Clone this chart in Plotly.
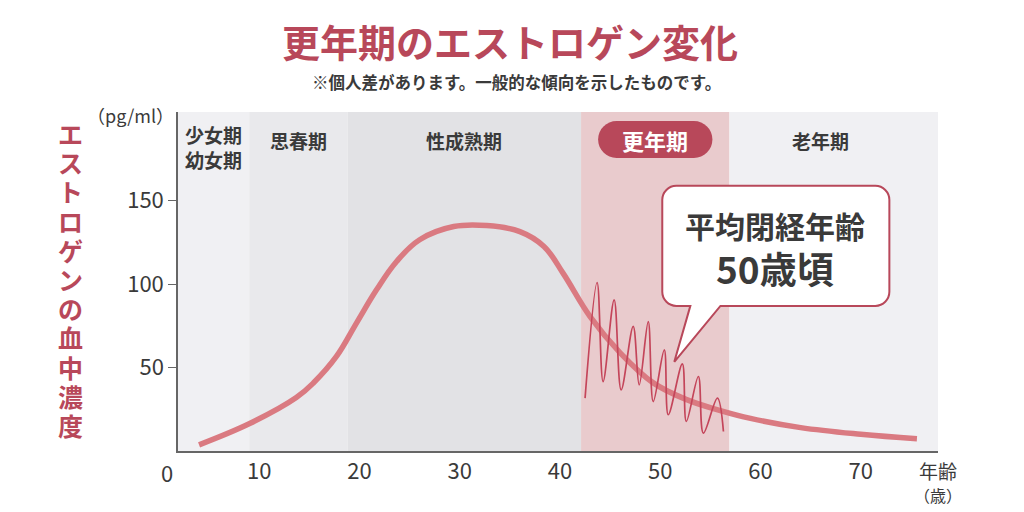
import plotly.graph_objects as go

# ---- data ----
ages_main = [4.0, 9.1, 13.7, 15.4, 17.7, 19.7, 21.7, 23.7, 26.0, 29.4, 32.7, 36.0,
             38.4, 40.3, 43.0, 46.0, 49.3, 52.7, 56.0, 59.0, 64.0, 70.0, 75.6]
estrogen_main = [3.7, 16.6, 32.0, 40.7, 56.6, 76.6, 96.5, 113.5, 126.5, 134.4, 135.0, 131.4,
                 122.5, 106.5, 80.5, 58.8, 40.8, 30.6, 24.2, 19.5, 14.0, 10.0, 7.3]

ages_wave = [42.5, 43.7, 44.3, 45.4, 46.1, 47.3, 47.9, 48.8, 49.3, 50.4, 50.8,
             52.2, 52.6, 53.8, 54.3, 55.7, 56.3]
estrogen_wave = [31.7, 100.9, 41.6, 90.5, 36.6, 74.6, 39.6, 77.5, 29.6, 60.6, 21.7,
                 52.2, 17.7, 44.6, 10.7, 31.7, 11.7]

x_ticks = [10, 20, 30, 40, 50, 60, 70]
y_ticks = [50, 100, 150]

stage_names = ["少女期<br>幼女期", "思春期", "性成熟期", "更年期", "老年期"]
stage_bounds = [1.9, 9.0, 18.8, 42.1, 56.9, 77.7]
stage_colors = ["#f0f0f3", "#e9e9ec", "#e2e2e5", "#e9cbcd", "#f0f0f3"]
stage_label_x = [5.45, 13.9, 30.45, 49.5, 66.0]

X_RANGE = [1.9, 77.7]
Y_RANGE = [0, 203]

FONT = "Noto Sans CJK JP, Noto Sans, sans-serif"
RED = "#b8485a"
DARK = "#3a3a3a"


def rounded_path(x0, x1, y0, y1, rx, ry, tail=None):
    k = 0.552
    p = f"M {x0+rx},{y1} L {x1-rx},{y1} "
    p += f"C {x1-rx+rx*k},{y1} {x1},{y1-ry+ry*k} {x1},{y1-ry} "
    p += f"L {x1},{y0+ry} "
    p += f"C {x1},{y0+ry-ry*k} {x1-rx+rx*k},{y0} {x1-rx},{y0} "
    if tail:
        (tl, tr, tx, ty) = tail
        p += f"L {tr},{y0} L {tx},{ty} L {tl},{y0} "
    p += f"L {x0+rx},{y0} "
    p += f"C {x0+rx-rx*k},{y0} {x0},{y0+ry-ry*k} {x0},{y0+ry} "
    p += f"L {x0},{y1-ry} "
    p += f"C {x0},{y1-ry+ry*k} {x0+rx-rx*k},{y1} {x0+rx},{y1} Z"
    return p


fig = go.Figure()

fig.add_trace(go.Scatter(
    x=ages_main, y=estrogen_main, mode="lines",
    line=dict(color="#da7a81", width=5.5, shape="spline", smoothing=1.1),
    hoverinfo="skip", showlegend=False))

fig.add_trace(go.Scatter(
    x=ages_wave, y=estrogen_wave, mode="lines",
    line=dict(color="#c4455a", width=1.7, shape="spline", smoothing=1.0),
    hoverinfo="skip", showlegend=False))

shapes = []
for i in range(len(stage_names)):
    shapes.append(dict(type="rect", xref="x", yref="y",
                       x0=stage_bounds[i], x1=stage_bounds[i + 1],
                       y0=Y_RANGE[0], y1=Y_RANGE[1],
                       fillcolor=stage_colors[i], line=dict(width=0), layer="below"))

# badge for 更年期
shapes.append(dict(type="path", xref="x", yref="y",
                   path=rounded_path(43.8, 55.2, 175.5, 197.6, 1.85, 11.0),
                   fillcolor=RED, line=dict(width=0), layer="above"))

# callout
shapes.append(dict(type="path", xref="x", yref="y",
                   path=rounded_path(50.2, 72.85, 86.9, 158.8, 1.4, 8.4,
                                     tail=(53.0, 56.0, 51.4, 53.4)),
                   fillcolor="white", line=dict(color=RED, width=2), layer="above"))

annotations = []
for i, name in enumerate(stage_names):
    if i == 3:
        annotations.append(dict(x=stage_label_x[i], y=186, xref="x", yref="y",
                                text="<b>" + name + "</b>", showarrow=False,
                                font=dict(family=FONT, size=22, color="white")))
    else:
        annotations.append(dict(x=stage_label_x[i], y=186 if i else 182, xref="x", yref="y",
                                text="<b>" + name + "</b>", showarrow=False,
                                font=dict(family=FONT, size=19, color=DARK)))

annotations += [
    dict(x=61.4, y=135.5, xref="x", yref="y", text="<b>平均閉経年齢</b>", showarrow=False,
         font=dict(family=FONT, size=30, color=DARK)),
    dict(x=61.4, y=109.5, xref="x", yref="y", text="<b>50歳頃</b>", showarrow=False,
         font=dict(family=FONT, size=37, color=DARK)),
    dict(x=-0.0145, y=0, xref="paper", yref="paper", text="0", showarrow=False,
         xanchor="center", yanchor="middle",
         yshift=-21, font=dict(family=FONT, size=22, color=DARK)),
    dict(x=0.437, y=1, xref="paper", yref="paper", xanchor="center", yanchor="middle",
         yshift=72, text="<b>更年期のエストロゲン変化</b>", showarrow=False,
         font=dict(family=FONT, size=38, color=RED)),
    dict(x=0.445, y=1, xref="paper", yref="paper", xanchor="center", yanchor="middle",
         yshift=30, text="<b>※個人差があります。一般的な傾向を示したものです。</b>", showarrow=False,
         font=dict(family=FONT, size=16.5, color=DARK)),
    dict(x=-0.063, y=1, xref="paper", yref="paper", xanchor="center", yanchor="middle",
         yshift=-3, text="（pg/ml）", showarrow=False,
         font=dict(family=FONT, size=18, color=DARK)),
    dict(x=1.0, y=0, xref="paper", yref="paper", xanchor="center", yanchor="middle",
         yshift=-19, text="年齢", showarrow=False,
         font=dict(family=FONT, size=19, color=DARK)),
    dict(x=1.0, y=0, xref="paper", yref="paper", xanchor="center", yanchor="middle",
         yshift=-44, text="（歳）", showarrow=False,
         font=dict(family=FONT, size=16, color=DARK)),
]

# vertical y-axis title, one character per line
ytitle = list("エストロゲンの血中濃度")
for j, ch in enumerate(ytitle):
    annotations.append(dict(x=-0.142, y=1, xref="paper", yref="paper",
                            xanchor="center", yanchor="middle",
                            yshift=-(21 + 29.2 * j), text="<b>" + ch + "</b>", showarrow=False,
                            font=dict(family=FONT, size=25, color=RED)))

fig.update_layout(
    width=1024, height=512,
    margin=dict(l=178, r=86, t=112, b=61),
    paper_bgcolor="white", plot_bgcolor="white",
    shapes=shapes, annotations=annotations,
    font=dict(family=FONT, color=DARK),
    xaxis=dict(range=X_RANGE, tickvals=x_ticks, showgrid=False, zeroline=False,
               showline=True, linecolor="#666", linewidth=1.5, ticks="",
               tickfont=dict(family=FONT, size=22, color=DARK), fixedrange=True),
    yaxis=dict(range=Y_RANGE, tickvals=y_ticks, showgrid=False, zeroline=False,
               showline=True, linecolor="#666", linewidth=1.5, ticks="outside",
               ticklen=8, tickcolor="#666", tickwidth=1.2,
               tickfont=dict(family=FONT, size=22, color=DARK), fixedrange=True),
)

fig.write_html("out.html")
